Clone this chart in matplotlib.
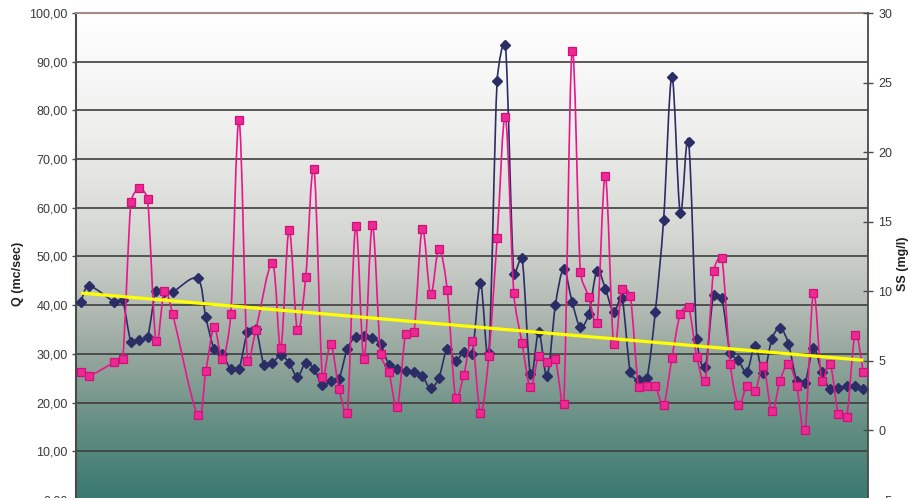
import numpy as np
import matplotlib
matplotlib.use("Agg")
import matplotlib.pyplot as plt
from matplotlib.path import Path
from matplotlib.patches import PathPatch
from matplotlib.ticker import FuncFormatter

# ---------------- data ----------------
sample_index = list(range(95))
nan = float("nan")
q_values = [40.7, 43.9, nan, nan, 40.7, 41.0, 32.5, 32.8, 33.5, 42.9,
            42.8, 42.7, nan, nan, 45.5, 37.5, 31.0, 29.9, 26.9, 27.0,
            34.5, 35.2, 27.7, 28.2, 29.7, 28.2, 25.3, 28.2, 26.9, 23.6,
            24.5, 24.9, 31.1, 33.5, 33.6, 33.2, 32.0, 27.8, 26.9, 26.5,
            26.3, 25.5, 22.9, 25.1, 31.0, 28.6, 30.4, 29.9, 44.5, 30.2,
            86.1, 93.4, 46.5, 49.6, 25.8, 34.5, 25.5, 40.0, 47.4, 40.7,
            35.5, 38.2, 47.1, 43.4, 38.6, 41.5, 26.2, 24.6, 25.1, 38.6,
            57.5, 86.9, 59.0, 73.6, 33.0, 27.3, 42.1, 41.4, 30.2, 28.7,
            26.3, 31.6, 26.0, 33.0, 35.4, 32.1, 24.5, 24.1, 31.2, 26.3,
            22.7, 23.0, 23.4, 23.4, 22.7]
ss_values = [4.17, 3.93, nan, nan, 4.89, 5.1, 16.4, 17.4, 16.6, 6.44,
             10.0, 8.4, nan, nan, 1.1, 4.26, 7.4, 5.1, 8.35, 22.3,
             5.0, 7.2, nan, 12.0, 5.94, 14.4, 7.2, 11.0, 18.8, 3.86,
             6.18, 3.0, 1.22, 14.7, 5.12, 14.75, 5.46, 4.17, 1.7, 6.92,
             7.04, 14.5, 9.77, 13.07, 10.1, 2.35, 4.0, 6.44, 1.27, 5.37,
             13.8, 22.5, 9.9, 6.25, 3.09, 5.37, 4.93, 5.12, 1.9, 27.25,
             11.4, 9.6, 7.7, 18.3, 6.18, 10.2, 9.65, 3.09, 3.21, 3.21,
             1.82, 5.22, 8.36, 8.84, 5.29, 3.57, 11.44, 12.4, 4.81, 1.82,
             3.2, 2.82, 4.62, 1.39, 3.57, 4.81, 3.18, 0.02, 9.9, 3.57,
             4.81, 1.17, 0.98, 6.85, 4.17]
trend_q = [42.5, 28.7]          # linear trend, value at first and last sample
q_ticks = [0, 10, 20, 30, 40, 50, 60, 70, 80, 90, 100]
ss_ticks = [-5, 0, 5, 10, 15, 20, 25, 30]
q_label = "Q (mc/sec)"
ss_label = "SS (mg/l)"

# ---------------- styling ----------------
plt.rcParams["font.family"] = ["Liberation Sans", "DejaVu Sans"]
NAVY = "#2b2d66"
PINK = "#e8168a"
GRID = "#3e3e3e"
TXT = "#3a3a3a"

W, H = 908, 498
fig = plt.figure(figsize=(W / 100, H / 100), dpi=100)
fig.patch.set_facecolor("white")
left, right = 76 / W, 868 / W
top, bottom = 1 - 13 / H, -2 / H
ax = fig.add_axes([left, bottom, right - left, top - bottom])
ax2 = ax.twinx()

xlim = (-0.6, 94.56)
ax.set_xlim(*xlim)
ax.set_ylim(0, 100)
ax2.set_xlim(*xlim)
ax2.set_ylim(-5, 30)

# background gradient (white -> grey -> teal)
stops_pos = [0.0, 0.25, 0.45, 0.6, 0.72, 0.85, 1.0]
stops_col = np.array([[255, 255, 255], [238, 239, 237], [214, 216, 212],
                      [180, 188, 181], [145, 164, 154], [100, 142, 131],
                      [56, 121, 111]]) / 255.0
rows = np.linspace(0, 1, 400)
grad = np.stack([np.interp(rows, stops_pos, stops_col[:, c]) for c in range(3)], axis=1)
img = np.repeat(grad[:, None, :], 2, axis=1)
ax.imshow(img, extent=[xlim[0], xlim[1], 0, 100], aspect="auto",
          origin="upper", zorder=0, interpolation="bilinear")
ax.set_xlim(*xlim)
ax.set_ylim(0, 100)

# gridlines
for t in q_ticks[1:-1]:
    ax.axhline(t, color=GRID, lw=1.2, zorder=1)

# spines
ax.spines["bottom"].set_visible(False)
ax2.spines["bottom"].set_visible(False)
ax.spines["top"].set_color("#a08c86")
ax.spines["top"].set_linewidth(1.5)
ax2.spines["top"].set_visible(False)
ax.spines["left"].set_color("#4a4a4a")
ax.spines["left"].set_linewidth(1.5)
ax.spines["right"].set_visible(False)
ax2.spines["left"].set_visible(False)
ax2.spines["right"].set_color("#4a4a4a")
ax2.spines["right"].set_linewidth(1.3)

ax.set_xticks([])
ax.set_yticks(q_ticks)
ax.yaxis.set_major_formatter(FuncFormatter(lambda v, p: f"{v:.2f}".replace(".", ",")))
ax.tick_params(axis="y", direction="out", length=3, width=1, color="#4a4a4a",
               labelsize=9, labelcolor=TXT, pad=3)
ax2.set_yticks(ss_ticks)
ax2.tick_params(axis="y", direction="inout", length=7, width=1, color="#4a4a4a",
                labelsize=9, labelcolor=TXT, pad=4)


def smooth_path(axis, xs, ys, k=1 / 6.0, limit=0.4):
    """Bezier smoothing (Excel-like) computed in pixel space, returned in data space."""
    tr = axis.transData
    pts = tr.transform(np.column_stack([xs, ys]))
    n = len(pts)
    verts = [pts[0]]
    codes = [Path.MOVETO]
    for i in range(n - 1):
        p0 = pts[i - 1] if i > 0 else pts[i]
        p1, p2 = pts[i], pts[i + 1]
        p3 = pts[i + 2] if i + 2 < n else pts[i + 1]
        seg = np.hypot(*(p2 - p1))
        t1 = (p2 - p0) * k
        t2 = (p3 - p1) * k
        for t in (t1, t2):
            L = np.hypot(*t)
            if L > limit * seg and L > 0:
                t *= limit * seg / L
        verts += [p1 + t1, p2 - t2, p2]
        codes += [Path.CURVE4] * 3
    verts = tr.inverted().transform(np.array(verts))
    return Path(verts, codes)


x = np.array(sample_index, dtype=float)
q = np.array(q_values)
ss = np.array(ss_values)
mq = ~np.isnan(q)
ms = ~np.isnan(ss)

# navy Q series (primary axis)
ax.add_patch(PathPatch(smooth_path(ax, x[mq], q[mq]), fill=False, edgecolor=NAVY,
                       lw=1.2, zorder=3))
ax.plot(x[mq], q[mq], ls="none", marker="D", ms=5, mfc=NAVY, mec=NAVY, zorder=4)

# pink SS series (secondary axis)
ax2.add_patch(PathPatch(smooth_path(ax2, x[ms], ss[ms]), fill=False, edgecolor=PINK,
                        lw=1.2, zorder=3))
ax2.plot(x[ms], ss[ms], ls="none", marker="s", ms=6.2, mfc="#ec2a92",
         mec="#d0107c", mew=0.9, zorder=4)

# yellow trend line (in Q units), drawn on top
ax2.plot([x[0], x[-1]], trend_q, color="#ffff00", lw=2.3, zorder=5,
         transform=ax.transData, solid_capstyle="butt")
ax2.set_ylim(-5, 30)
ax2.set_xlim(*xlim)

fig.text(18 / W, 1 - 274 / H, q_label, rotation=90, ha="center", va="center",
         fontsize=9, fontweight="bold", color="#222222")
fig.text(903 / W, 1 - 264 / H, ss_label, rotation=90, ha="center", va="center",
         fontsize=9, fontweight="bold", color="#222222")

fig.savefig("out.png", dpi=100)
